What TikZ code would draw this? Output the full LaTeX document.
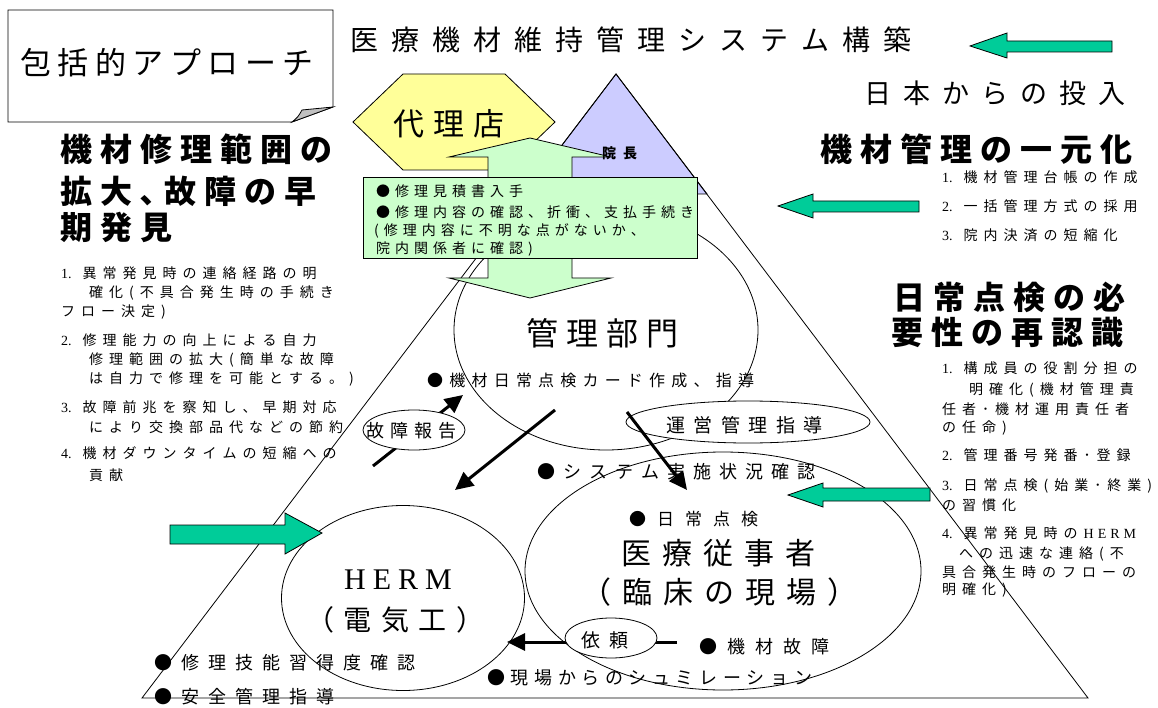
\documentclass[tikz,border=0pt]{standalone}
\usepackage{fontspec}
\setmainfont{Liberation Serif}
\newfontfamily\jp{Noto Sans CJK JP}
\usetikzlibrary{shapes.geometric,arrows.meta}
\definecolor{teal1}{HTML}{00CC99}
\definecolor{lgreen}{HTML}{CCFFCC}
\definecolor{lyellow}{HTML}{FFFF99}
\definecolor{lpurple}{HTML}{CCCCFF}
\definecolor{foldgray}{HTML}{C0C0C0}
\newdimen\lsp
\makeatletter
\def\ls#1{\ls@loop#1\ls@stop}
\def\ls@stop{}
\def\ls@loop#1{\ifx#1\ls@stop\else#1\kern\lsp\expandafter\ls@loop\fi}
\makeatother
\newcommand\itm[2]{{\rmfamily #1}\hspace{11pt}\ls{#2}}
\tikzset{
  J/.style 2 args={inner sep=0pt, anchor=west, font={\jp\fontsize{#1}{#1}\selectfont\lsp=#2pt\relax}},
  JB/.style 2 args={inner sep=0pt, anchor=west, font={\jp\bfseries\fontsize{#1}{#1}\selectfont\lsp=#2pt\relax}},
  thin line/.style={line width=0.8pt},
  blockarrow/.style={fill=teal1, draw=black, line width=0.8pt},
  thickarrow/.style={line width=3pt, -{Triangle[length=18pt,width=17pt]}},
  ell/.style={ellipse, draw, inner sep=0pt, line width=0.8pt},
}
\begin{document}
\begin{tikzpicture}[x=1pt,y=-1pt]
\useasboundingbox (0,0) rectangle (1158,708);
\fill[white] (0,0) rectangle (1158,708);

% purple top and big triangle
\filldraw[fill=lpurple, thin line] (616,74) -- (525,194) -- (707,194) -- cycle;
\draw[thin line] (616,74) -- (142,698) -- (1088,698) -- cycle;

% note box
\filldraw[fill=white, thin line] (8,10) -- (333,10) -- (333,107) -- (292,122) -- (8,122) -- cycle;
\filldraw[fill=foldgray, thin line] (292,122) .. controls (298,117) .. (302,110) -- (333,107) -- cycle;

% main ellipses
\node[ell, minimum width=304pt, minimum height=240pt] (kanri) at (606,330) {};
\node[ell, minimum width=396pt, minimum height=238pt] (iryo) at (723,571) {};
\node[ell, minimum width=243pt, minimum height=185pt] (herm) at (403,598) {};

% yellow hexagon
\filldraw[fill=lyellow, thin line] (353,122) -- (403,74) -- (505,74) -- (555,122) -- (505,170) -- (403,170) -- cycle;

% green double arrow with box
\filldraw[fill=lgreen, thin line] (530,138) -- (611,157) -- (572,157) -- (572,278) -- (611,278) -- (530,298) -- (449,278) -- (488,278) -- (488,157) -- (449,157) -- cycle;
\filldraw[fill=lgreen, thin line] (363,177) rectangle (697,258);

% block arrows
\filldraw[blockarrow] (1112,41) -- (1007,41) -- (1007,33) -- (970,46) -- (1007,58) -- (1007,52) -- (1112,52) -- cycle;
\filldraw[blockarrow] (919,201) -- (813,201) -- (813,194) -- (778,206) -- (813,218) -- (813,212) -- (919,212) -- cycle;
\filldraw[blockarrow] (930,488) -- (823,488) -- (823,483) -- (788,495) -- (823,507) -- (823,501) -- (930,501) -- cycle;
\filldraw[blockarrow] (170,525) -- (285,525) -- (285,513) -- (322,533) -- (285,554) -- (285,544) -- (170,544) -- cycle;

% arrow coordinates
\coordinate (a1s) at (373,466); \coordinate (a1e) at (463,395);
\coordinate (a2s) at (555,410); \coordinate (a2e) at (455,490);
\coordinate (a3s) at (627,412); \coordinate (a3e) at (687,490);
\coordinate (a4s) at (677,642); \coordinate (a4e) at (507,642);

\draw[thickarrow] (a1s) -- (a1e);
\draw[thickarrow] (a2s) -- (a2e);
\draw[thickarrow] (a4s) -- (a4e);

% small ellipses
\node[ell, fill=white, minimum width=102pt, minimum height=40pt] (kosho) at (414,430) {};
\node[ell, fill=white, minimum width=244pt, minimum height=42pt] (unei) at (748,422) {};
\node[ell, fill=white, minimum width=92pt, minimum height=40pt] (irai) at (611,638) {};

\draw[thickarrow] (a3s) -- (a3e);

% texts
\node[J={31}{6.5}] (approach) at (20,63) {\ls{包括的アプローチ}};
\node[J={28}{13}] (title) at (350,40) {\ls{医療機材維持管理システム構築}};
\node[J={27}{12}] (japan) at (864,93) {\ls{日本からの投入}};
\node[J={31}{9}] (dairi) at (393,124) {\ls{代理店}};
\node[JB={14}{7}] (incho) at (602,153) {\ls{院長}};

\node[J={14}{5}] (b1) at (376,191) {\ls{●修理見積書入手}};
\node[J={14}{5}] (b2) at (376,212) {\ls{●修理内容の確認、折衝、支払手続き}};
\node[J={14}{5}] (b3) at (374,231) {\ls{(修理内容に不明な点がないか、}};
\node[J={14}{5}] (b4) at (376,249) {\ls{院内関係者に確認)}};

% right heading 1
\node[JB={32}{8}] (h1) at (820,149) {\ls{機材管理の一元化}};
\node[J={14}{6}] (r11) at (942,177) {\itm{1.}{機材管理台帳の作成}};
\node[J={14}{6}] (r12) at (942,206) {\itm{2.}{一括管理方式の採用}};
\node[J={14}{6}] (r13) at (942,235) {\itm{3.}{院内決済の短縮化}};

% left heading
\node[JB={32}{8}] (lh1) at (60,149) {\ls{機材修理範囲の}};
\node[JB={32}{8}] (lh2) at (60,191) {\ls{拡大､故障の早}};
\node[JB={32}{8}] (lh3) at (60,227) {\ls{期発見}};
\node[J={14}{6}] (l1) at (61,273) {\itm{1.}{異常発見時の連絡経路の明}};
\node[J={14}{6}] (l1b) at (89,293) {\ls{確化(不具合発生時の手続き}};
\node[J={14}{6}] (l1c) at (61,312) {\ls{フロー決定)}};
\node[J={14}{6}] (l2) at (61,340) {\itm{2.}{修理能力の向上による自力}};
\node[J={14}{6}] (l2b) at (89,360) {\ls{修理範囲の拡大(簡単な故障}};
\node[J={14}{6}] (l2c) at (89,379) {\ls{は自力で修理を可能とする。)}};
\node[J={14}{6}] (l3) at (61,407) {\itm{3.}{故障前兆を察知し、早期対応}};
\node[J={14}{6}] (l3b) at (89,427) {\ls{により交換部品代などの節約}};
\node[J={14}{6}] (l4) at (61,453) {\itm{4.}{機材ダウンタイムの短縮への}};
\node[J={14}{6}] (l4b) at (89,475) {\ls{貢献}};

% right heading 2
\node[JB={32}{8}] (rh1) at (893,297) {\ls{日常点検の必}};
\node[JB={32}{8}] (rh2) at (891,332) {\ls{要性の再認識}};
\node[J={14}{6}] (s1) at (942,368) {\itm{1.}{構成員の役割分担の}};
\node[J={14}{6}] (s1b) at (969,390) {\ls{明確化(機材管理責}};
\node[J={14}{6}] (s1c) at (942,409) {\ls{任者･機材運用責任者}};
\node[J={14}{6}] (s1d) at (942,428) {\ls{の任命)}};
\node[J={14}{6}] (s2) at (942,455) {\itm{2.}{管理番号発番･登録}};
\node[J={14}{6}] (s3) at (942,486) {\itm{3.}{日常点検(始業･終業)}};
\node[J={14}{6}] (s3b) at (942,505) {\ls{の習慣化}};
\node[J={14}{6}] (s4) at (942,533) {\itm{4.}{異常発見時の}{\rmfamily\lsp=4pt\relax\ls{HERM}}};
\node[J={14}{6}] (s4b) at (959,554) {\ls{への迅速な連絡(不}};
\node[J={14}{6}] (s4c) at (942,572) {\ls{具合発生時のフローの}};
\node[J={14}{6}] (s4d) at (942,590) {\ls{明確化)}};

% center texts
\node[J={32}{8}] (kanrit) at (526,333) {\ls{管理部門}};
\node[J={16}{6.2}] (check1) at (427,380) {\ls{●機材日常点検カード作成、指導}};
\node[J={18}{6}] (kosyot) at (366,431) {\ls{故障報告}};
\node[J={19}{8.5}] (uneit) at (666,425) {\ls{運営管理指導}};
\node[J={18}{8}] (sys) at (537,472) {\ls{●システム実施状況確認}};
\node[J={17}{11}] (nichijo) at (629,519) {\ls{●日常点検}};
\node[J={30}{11}] (iryot) at (621,553) {\ls{医療従事者}};
\node[J={30}{11}] (rinsho) at (581,592) {\ls{（臨床の現場）}};
\node[J={19}{9}] (iraiT) at (581,640) {\ls{依頼}};
\node[J={18}{10}] (kosyo) at (699,647) {\ls{●機材故障}};
\node[J={18}{5.6}] (sim) at (487,678) {\ls{●現場からのシュミレーション}};
\node[inner sep=0pt, anchor=west, font={\rmfamily\fontsize{30}{30}\selectfont\lsp=7pt\relax}] (hermt) at (344,580) {\ls{HERM}};
\node[J={28}{9.5}] (denki) at (306,620) {\ls{（電気工）}};
\node[J={18}{9}] (skill) at (154,663) {\ls{●修理技能習得度確認}};
\node[J={18}{9}] (safety) at (154,697) {\ls{●安全管理指導}};
\end{tikzpicture}
\end{document}
